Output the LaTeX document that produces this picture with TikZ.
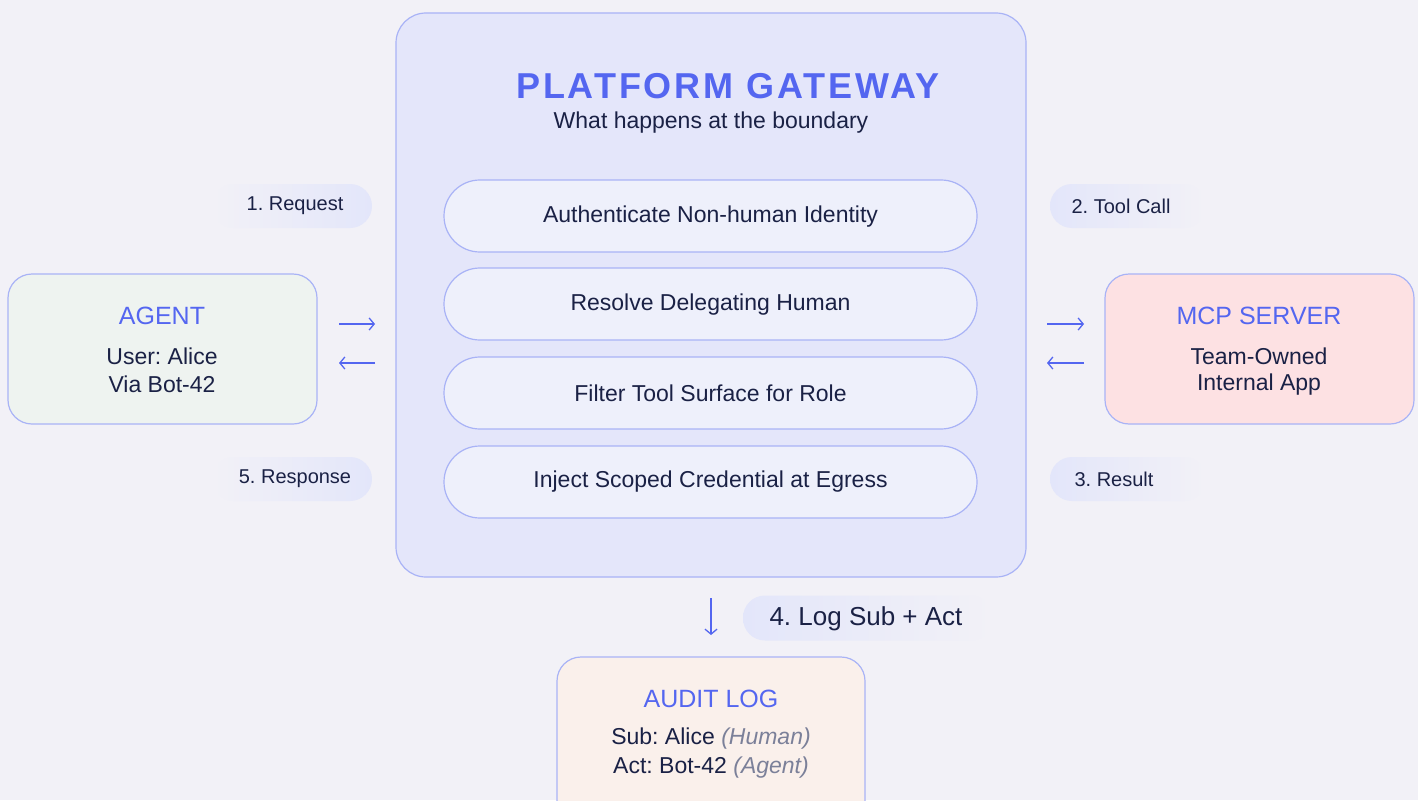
\documentclass[tikz,border=0pt]{standalone}
\usepackage{fontspec}
\setmainfont{Liberation Sans}
\newfontfamily\titlefont[LetterSpace=8]{Liberation Sans}
\usetikzlibrary{arrows.meta}
\frenchspacing
\definecolor{bg}{HTML}{F2F1F7}
\definecolor{gwfill}{HTML}{E4E6FA}
\definecolor{edge}{HTML}{A9B3F6}
\definecolor{stepfill}{HTML}{EEF0FB}
\definecolor{accent}{HTML}{5466F0}
\definecolor{ink}{HTML}{1A2145}
\definecolor{agentfill}{HTML}{EEF3F0}
\definecolor{mcpfill}{HTML}{FDE1E3}
\definecolor{auditfill}{HTML}{FAF0EB}
\definecolor{pill}{HTML}{E3E6FA}
\definecolor{muted}{HTML}{7B8099}
\begin{document}
\begin{tikzpicture}[x=1pt,y=-1pt,
  box/.style={draw=edge, line width=1.2pt, rounded corners=24pt, inner sep=0pt},
  stepbox/.style={draw=edge, line width=1.2pt, fill=stepfill, rounded corners=35.9pt,
    minimum width=533pt, minimum height=72pt, inner sep=0pt},
  steptext/.style={font=\fontsize{23}{27}\selectfont, text=ink, inner sep=0pt},
  heading/.style={font=\fontsize{25}{29}\selectfont, text=accent, inner sep=0pt},
  body/.style={font=\fontsize{23}{29}\selectfont, text=ink, inner sep=0pt},
  lbl/.style={font=\fontsize{20}{24}\selectfont, text=ink, inner sep=0pt},
  pillL/.style={rounded corners=22pt, left color=bg, right color=pill, inner sep=0pt},
  pillR/.style={rounded corners=22pt, left color=pill, right color=bg, inner sep=0pt},
  flow/.style={draw=accent, line width=1.3pt, -{Straight Barb[length=5pt,width=12pt]}}
]
\useasboundingbox (0,0) rectangle (1418,800);
\clip (0,0) rectangle (1418,800);
\fill[bg] (0,0) rectangle (1418,800);

% Gateway
\node[box, fill=gwfill, rounded corners=30pt, minimum width=630pt, minimum height=564pt] (gw) at (711,295) {};
\node[font=\titlefont\bfseries\fontsize{36}{40}\selectfont, text=accent, inner sep=0pt] (gwtitle) at (728,86) {PLATFORM GATEWAY};
\node[font=\fontsize{23}{27}\selectfont, text=ink, inner sep=0pt] (gwsub) at (711,123) {What happens at the boundary};

\node[stepbox] (s1) at (710.5,216) {};
\node[stepbox] (s2) at (710.5,304) {};
\node[stepbox] (s3) at (710.5,393) {};
\node[stepbox] (s4) at (710.5,482) {};
\node[steptext] (t1) at (710.5,217) {Authenticate Non-human Identity};
\node[steptext] (t2) at (710.5,305) {Resolve Delegating Human};
\node[steptext] (t3) at (710.5,393) {Filter Tool Surface for Role};
\node[steptext] (t4) at (710.5,482) {Inject Scoped Credential at Egress};

% Agent
\node[box, fill=agentfill, minimum width=309pt, minimum height=150pt] (agent) at (162.5,349) {};
\node[heading] (agentT) at (162,316) {AGENT};
\node[body] (agentL1) at (162,356) {User: Alice};
\node[body] (agentL2) at (162,384) {Via Bot-42};

% MCP server
\node[box, fill=mcpfill, minimum width=309pt, minimum height=150pt] (mcp) at (1259.5,349) {};
\node[heading] (mcpT) at (1259,316) {MCP SERVER};
\node[body] (mcpL1) at (1259,356) {Team-Owned};
\node[body] (mcpL2) at (1259,385) {Internal App};

% Audit log
\node[box, fill=auditfill, minimum width=308pt, minimum height=190pt] (audit) at (711,752) {};
\node[heading] (auditT) at (711,699) {AUDIT LOG};
\node[body] (auditL1) at (711,739) {Sub: Alice \textcolor{muted}{\itshape(Human)}};
\node[body] (auditL2) at (711,768) {Act: Bot-42 \textcolor{muted}{\itshape(Agent)}};

% Step labels
\node[pillL, minimum width=160pt, minimum height=44pt] (p1) at (292,206) {};
\node[lbl] (l1) at (295,206) {1. Request};
\node[pillL, minimum width=160pt, minimum height=44pt] (p5) at (292,479) {};
\node[lbl] (l5) at (295,479) {5. Response};
\node[pillR, minimum width=156pt, minimum height=44pt] (p2) at (1128,206) {};
\node[lbl] (l2) at (1121,206) {2. Tool Call};
\node[pillR, minimum width=156pt, minimum height=44pt] (p3) at (1128,479) {};
\node[lbl] (l3) at (1114,479) {3. Result};
\node[pillR, minimum width=250pt, minimum height=45pt] (p4) at (868,618) {};
\node[font=\fontsize{26}{30}\selectfont, text=ink, inner sep=0pt] (l4) at (866,619) {4. Log Sub + Act};

% Arrows
\coordinate (a1s) at (339,324); \coordinate (a1e) at (375,324);
\coordinate (a5s) at (375,363); \coordinate (a5e) at (339,363);
\coordinate (a2s) at (1047,324); \coordinate (a2e) at (1084,324);
\coordinate (a3s) at (1084,363); \coordinate (a3e) at (1047,363);
\coordinate (a4s) at (711,598); \coordinate (a4e) at (711,635);
\draw[flow] (a1s) -- (a1e);
\draw[flow] (a5s) -- (a5e);
\draw[flow] (a2s) -- (a2e);
\draw[flow] (a3s) -- (a3e);
\draw[flow] (a4s) -- (a4e);
\end{tikzpicture}
\end{document}
